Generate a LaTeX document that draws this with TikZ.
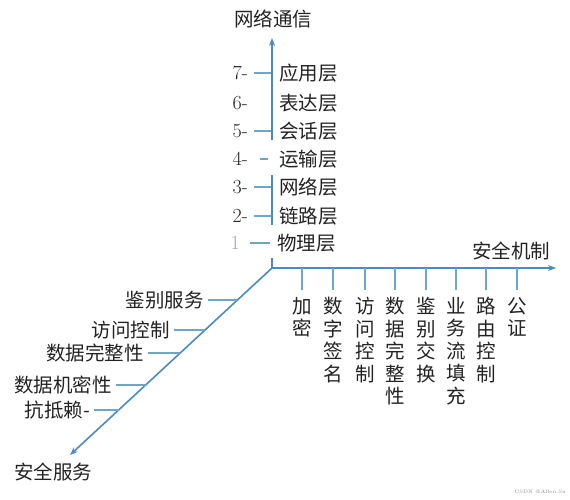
\documentclass[tikz,border=0pt]{standalone}
\usepackage{fontspec}
\newfontfamily\cjk{Noto Sans CJK SC}
\usetikzlibrary{arrows.meta}
\definecolor{axisblue}{RGB}{78,138,190}
\definecolor{tickblue}{RGB}{110,165,200}
\definecolor{txt}{RGB}{35,35,35}
\tikzset{
  axisline/.style={draw=axisblue,line width=1.6pt},
  axisarrow/.style={axisline,-{Stealth[length=8pt,width=6pt]}},
  tickline/.style={draw=tickblue,line width=1.1pt},
  lbl/.style={text=txt,font=\cjk\fontsize{19.5}{19.5}\selectfont,inner sep=0pt},
  numlbl/.style={text=txt,font=\fontsize{20}{20}\selectfont,inner sep=0pt},
  vlbl/.style={text=txt,font=\cjk\fontsize{19.5}{22.5}\selectfont,inner sep=0pt,align=center,anchor=north},
}
\begin{document}
\begin{tikzpicture}[x=1pt,y=-1pt]
\useasboundingbox[fill=white] (0,0) rectangle (570,500);
% axes
\coordinate (O) at (272,268);
\coordinate (Ytop) at (272,38);
\coordinate (Xend) at (556,268);
\coordinate (Dend) at (70,455);
\draw[axisline] (O) -- (272,258);
\draw[axisline] (272,225) -- (272,175);
\draw[axisarrow] (272,140) -- (Ytop);
\draw[axisarrow] (O) -- (Xend);
\draw[axisarrow] (O) -- (Dend);
% axis titles
\node[lbl,anchor=center] (tY) at (273,19) {网络通信};
\node[lbl,anchor=center] (tX) at (511,251) {安全机制};
\node[lbl,anchor=center] (tD) at (53,472) {安全服务};
% OSI layers
\foreach \n/\y/\t in {7/73/应用层,6/103/表达层,5/131/会话层,4/159/运输层,3/187/网络层,2/216/链路层}{
  \node[numlbl,anchor=east] (n\n) at (248,\y) {\n-};
  \node[lbl,anchor=west] (l\n) at (279,\y) {\t};
}
\node[numlbl,anchor=east,text=black!35] (n1) at (240,243) {1};
\node[lbl,anchor=west] (l1) at (277,243) {物理层};
\foreach \n/\y in {7/73,5/131,3/187,2/216}{
  \draw[tickline] (254,\y) -- (271,\y);
}
\draw[tickline] (260,159) -- (268,159);
\draw[tickline] (250,243) -- (270,243);
% mechanisms
\foreach \i/\x/\t in {1/302/加\\密,2/333/数\\字\\签\\名,3/365/访\\问\\控\\制,4/395/数\\据\\完\\整\\性,5/426/鉴\\别\\交\\换,6/456/业\\务\\流\\填\\充,7/486/路\\由\\控\\制,8/517/公\\证}{
  \coordinate (m\i) at (\x,268);
  \draw[tickline] (m\i) -- (\x,290);
  \node[vlbl] (v\i) at (\x,297) {\t};
}
% services
\foreach \i/\y/\sx/\a/\t in {1/300/237.4/204/鉴别服务,2/330/205.0/170/访问控制,3/353/180.2/144/数据完整性,4/385/145.6/112/数据机密性,5/410/118.6/90/抗抵赖-}{
  \coordinate (s\i) at (\sx,\y);
  \draw[tickline] (\a+4,\y) -- (s\i);
  \node[lbl,anchor=east] (sv\i) at (\a,\y) {\t};
}
\node[text=black!45,font=\fontsize{5}{5}\selectfont,anchor=east,inner sep=0pt] (wm) at (566,492) {CSDN @Allen.Su};
\end{tikzpicture}
\end{document}
